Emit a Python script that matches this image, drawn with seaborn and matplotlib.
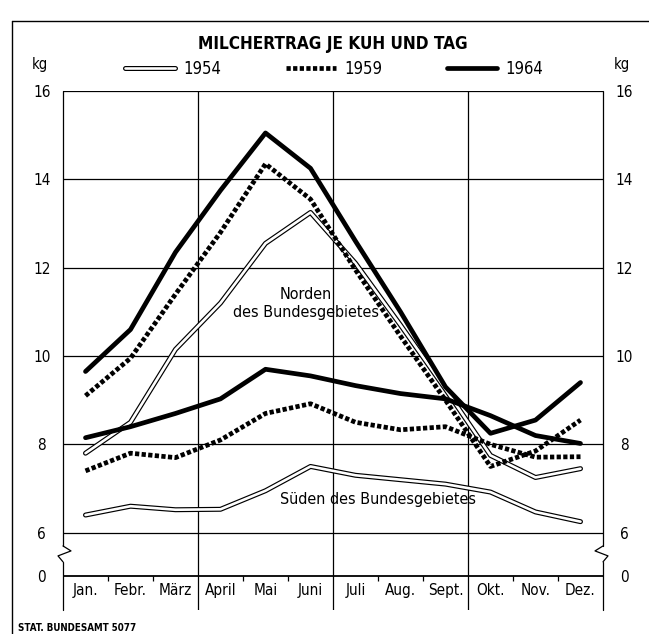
import numpy as np
import pandas as pd
import matplotlib
matplotlib.use("Agg")
import matplotlib.pyplot as plt
import seaborn as sns
from matplotlib.lines import Line2D
from matplotlib.legend_handler import HandlerTuple

# Monate und Werte (kg Milch je Kuh und Tag)
monate = ["Jan.", "Febr.", "März", "April", "Mai", "Juni",
          "Juli", "Aug.", "Sept.", "Okt.", "Nov.", "Dez."]

norden_1954 = [7.8, 8.5, 10.15, 11.2, 12.55, 13.25, 12.1, 10.7, 9.25, 7.75, 7.25, 7.45]
norden_1959 = [9.1, 9.95, 11.4, 12.8, 14.35, 13.55, 11.95, 10.45, 9.0, 7.5, 7.85, 8.55]
norden_1964 = [9.65, 10.6, 12.35, 13.75, 15.05, 14.25, 12.6, 11.0, 9.3, 8.25, 8.55, 9.4]
sueden_1954 = [6.4, 6.6, 6.52, 6.53, 6.95, 7.5, 7.3, 7.2, 7.1, 6.92, 6.47, 6.25]
sueden_1959 = [7.4, 7.8, 7.7, 8.1, 8.7, 8.92, 8.5, 8.33, 8.4, 8.0, 7.71, 7.72]
sueden_1964 = [8.15, 8.4, 8.7, 9.03, 9.7, 9.55, 9.33, 9.15, 9.03, 8.65, 8.2, 8.02]

y_ticks = [6, 8, 10, 12, 14, 16]
null_pos = 5.03     # Lage der "0"-Linie unter dem Achsenbruch
y_unten = 4.25

serien = {
    ("Norden", 1954): norden_1954, ("Norden", 1959): norden_1959, ("Norden", 1964): norden_1964,
    ("Süden", 1954): sueden_1954, ("Süden", 1959): sueden_1959, ("Süden", 1964): sueden_1964,
}
df = pd.concat([
    pd.DataFrame({"Monat": monate, "pos": np.arange(len(monate)), "kg": werte,
                  "Gebiet": geb, "Jahr": jahr})
    for (geb, jahr), werte in serien.items()
], ignore_index=True)

sns.set_style("white")
plt.rcParams["font.family"] = ["DejaVu Sans"]
plt.rcParams["font.stretch"] = "condensed"
plt.rcParams["text.color"] = "black"
plt.rcParams["xtick.color"] = "black"
plt.rcParams["ytick.color"] = "black"

fig = plt.figure(figsize=(6.49, 6.34), dpi=100)
W, H = 649, 634
ax = fig.add_axes([63 / W, 1 - 610 / H, 540 / W, (610 - 91) / H])
ax.set_xlim(-0.5, 11.5)
ax.set_ylim(y_unten, 16)
for s in ax.spines.values():
    s.set_visible(False)

lw_grid = 0.9
# Gitter
for y in y_ticks[:-1]:
    ax.axhline(y, color="black", lw=lw_grid, zorder=1)
ax.axhline(16, color="black", lw=lw_grid, zorder=1)
ax.axhline(null_pos, color="black", lw=1.3, zorder=1)
ax.vlines([2.5, 5.5, 8.5], y_unten, 16, color="black", lw=lw_grid, zorder=1)
kleine = [b for b in np.arange(0.5, 11, 1.0) if b not in (2.5, 5.5, 8.5)]
ax.vlines(kleine, null_pos - 0.12, null_pos, color="black", lw=lw_grid, zorder=1)

# Seitenlinien mit Achsenbruch
bruch_oben, bruch_unten = 5.70, 5.34
px_x = 1 / 45
zz_off = [(0, 0), (8, 5), (-5, 10), (0, 16)]
for xs, sgn in [(-0.5, 1), (11.5, -1)]:
    ax.plot([xs, xs], [bruch_oben, 16], color="black", lw=lw_grid, clip_on=False, zorder=1)
    ax.plot([xs, xs], [y_unten, bruch_unten], color="black", lw=lw_grid, clip_on=False, zorder=1)
    zx = [xs + sgn * dx * px_x for dx, dy in zz_off]
    zy = [bruch_oben - (bruch_oben - bruch_unten) * dy / 16 for dx, dy in zz_off]
    ax.plot(zx, zy, color="black", lw=lw_grid, clip_on=False, zorder=1)

# Linien
lw = 3.4
for (geb, jahr), _ in serien.items():
    d = df[(df.Gebiet == geb) & (df.Jahr == jahr)]
    if jahr == 1954:
        sns.lineplot(data=d, x="pos", y="kg", ax=ax, color="black", lw=3.6, zorder=3)
        sns.lineplot(data=d, x="pos", y="kg", ax=ax, color="white", lw=1.9, zorder=3)
    elif jahr == 1959:
        sns.lineplot(data=d, x="pos", y="kg", ax=ax, color="black", lw=lw,
                     ls=(0, (0.9, 0.5)), zorder=4)
    else:
        sns.lineplot(data=d, x="pos", y="kg", ax=ax, color="black", lw=lw, zorder=5)

ax.set_xlabel("")
ax.set_ylabel("")

# Achsenbeschriftung
ax.set_xticks(np.arange(len(monate)), monate)
ax.tick_params(axis="x", length=0, pad=-13.7, labelsize=11)
for lbl in ax.get_xticklabels():
    lbl.set_va("center")

ax.set_yticks([null_pos] + y_ticks, ["0"] + [str(v) for v in y_ticks])
ax.tick_params(axis="y", length=0, pad=15.3, labelsize=11, labelleft=True, labelright=True)
for t in ax.yaxis.get_major_ticks():
    t.label1.set_ha("center")
    t.label2.set_ha("center")

# Texte im Diagramm
ax.text(4.9, 11.2, "Norden\ndes Bundesgebietes", ha="center", va="center",
        fontsize=11.5, linespacing=1.25, zorder=6)
ax.text(6.5, 6.75, "Süden des Bundesgebietes", ha="center", va="center",
        fontsize=11.5, zorder=6)

fig.text(333 / W, 1 - 44 / H, "MILCHERTRAG JE KUH UND TAG", ha="center", va="center",
         fontsize=12.3, fontweight="bold")
fig.text(40 / W, 1 - 64 / H, "kg", ha="center", va="center", fontsize=10.5)
fig.text(622 / W, 1 - 64 / H, "kg", ha="center", va="center", fontsize=10.5)
fig.text(18 / W, 1 - 628 / H, "STAT. BUNDESAMT 5077", ha="left", va="center",
         fontsize=7, fontweight="bold")

# Legende
h54 = (Line2D([], [], color="black", lw=3.6), Line2D([], [], color="white", lw=1.9))
h59 = Line2D([], [], color="black", lw=lw, ls=(0, (0.9, 0.5)))
h64 = Line2D([], [], color="black", lw=lw)
fig.legend([h54, h59, h64], ["1954", "1959", "1964"],
           handler_map={tuple: HandlerTuple(ndivide=1)},
           loc="center", bbox_to_anchor=(334 / W, 1 - 69 / H), ncol=3, frameon=False,
           fontsize=12, handlelength=3.0, handletextpad=0.5, columnspacing=3.9)

# Rahmen
fig.add_artist(Line2D([12 / W, 1], [1 - 21 / H, 1 - 21 / H], color="black", lw=1.0))
fig.add_artist(Line2D([12 / W, 12 / W], [0, 1 - 21 / H], color="black", lw=1.0))

fig.savefig("out.png", dpi=100)
